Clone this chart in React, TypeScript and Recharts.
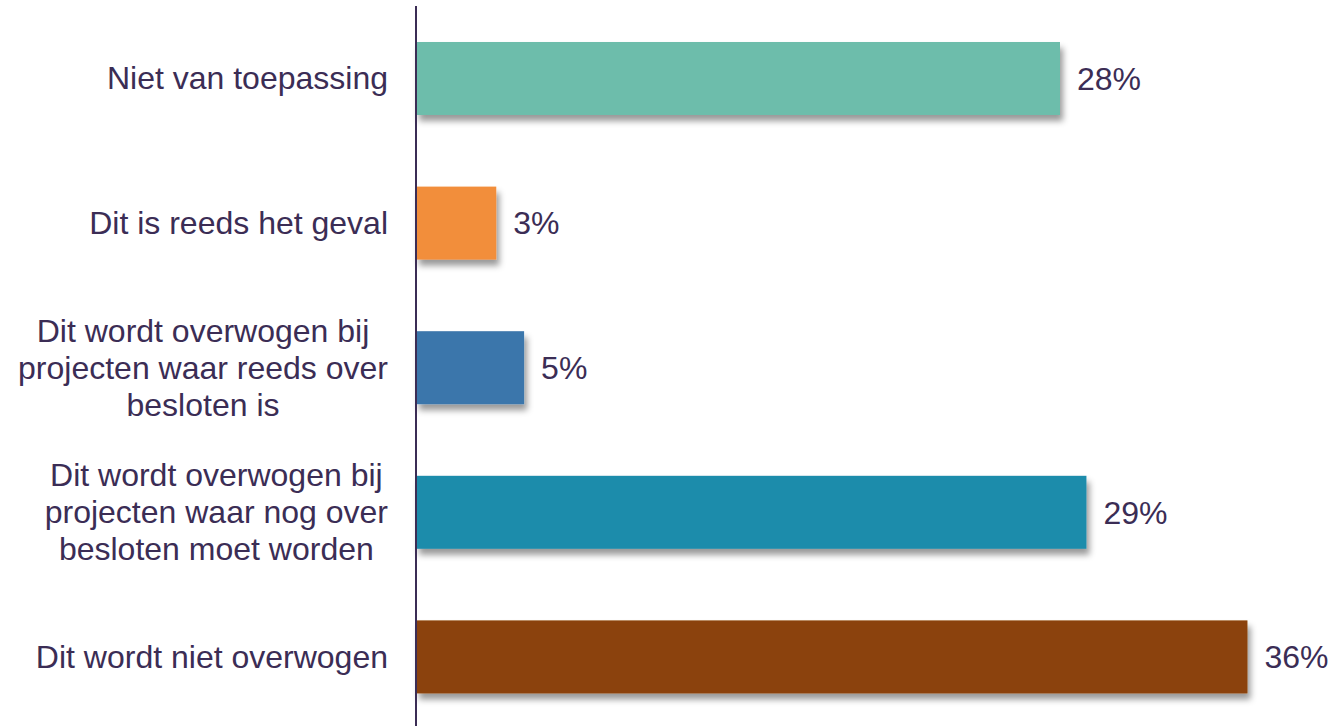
import React from 'react';
import { BarChart, Bar, XAxis, YAxis, Cell, LabelList } from 'recharts';

const categories = [
  'Niet van toepassing',
  'Dit is reeds het geval',
  'Dit wordt overwogen bij\nprojecten waar reeds over\nbesloten is',
  'Dit wordt overwogen bij\nprojecten waar nog over\nbesloten moet worden',
  'Dit wordt niet overwogen',
];
const values = [28, 3.49, 4.7, 29.15, 36.15];
const colors = ['#6dbdab', '#f28e3a', '#3b76ab', '#1f8cab', '#8b4309'];

const data = categories.map((c, i) => ({ name: c, value: values[i] }));

const TEXT = '#3b2d55';
const FONT = "'Liberation Sans', Arial, sans-serif";
const FS = 32;

let ctx: CanvasRenderingContext2D | null = null;
function measure(s: string) {
  if (!ctx) {
    const c = document.createElement('canvas');
    ctx = c.getContext('2d');
  }
  if (!ctx) return s.length * FS * 0.5;
  ctx.font = `${FS}px ${FONT}`;
  return ctx.measureText(s).width;
}

const Tick = (props: any) => {
  const { x, y, payload } = props;
  const lines: string[] = String(payload.value).split('\n');
  const maxW = Math.max(...lines.map(measure));
  const cx = x - maxW / 2;
  const lh = 37;
  const startY = y - ((lines.length - 1) * lh) / 2;
  return (
    <g>
      {lines.map((l, i) => (
        <text
          key={i}
          x={cx}
          y={startY + i * lh}
          textAnchor="middle"
          dominantBaseline="central"
          fill={TEXT}
          fontSize={FS}
          fontFamily={FONT}
        >
          {l}
        </text>
      ))}
    </g>
  );
};

const ShadowRect = (props: any) => {
  const { x, y, width, height, fill } = props;
  return <rect x={x} y={y} width={width} height={height} fill={fill} filter="url(#barShadow)" />;
};

export default function App() {
  return (
    <div style={{ position: 'absolute', left: 0, top: 0, width: 1336, height: 726, overflow: 'hidden', background: '#fff' }}>
      <svg width={0} height={0} style={{ position: 'absolute' }}>
        <defs>
          <filter id="barShadow" x="-10%" y="-20%" width="130%" height="160%">
            <feDropShadow dx={3} dy={6} stdDeviation={3} floodColor="#000" floodOpacity={0.4} />
          </filter>
        </defs>
      </svg>
      <BarChart
        width={1336}
        height={729}
        data={data}
        layout="vertical"
        margin={{ top: 6, right: 0, bottom: 0, left: 0 }}
        barSize={73}
      >
        <XAxis type="number" domain={[0, 40]} hide />
        <YAxis
          type="category"
          dataKey="name"
          width={416}
          axisLine={{ stroke: TEXT, strokeWidth: 2 }}
          tickLine={false}
          tickSize={0}
          tickMargin={28}
          tick={<Tick />}
          interval={0}
        />
        <Bar dataKey="value" isAnimationActive={false} shape={<ShadowRect />}>
          {data.map((d, i) => (
            <Cell key={i} fill={colors[i]} />
          ))}
          <LabelList
            dataKey="value"
            position="right"
            offset={17}
            formatter={(v: any) => `${Math.round(Number(v))}%`}
            fill={TEXT}
            fontSize={FS}
            fontFamily={FONT}
          />
        </Bar>
      </BarChart>
    </div>
  );
}
